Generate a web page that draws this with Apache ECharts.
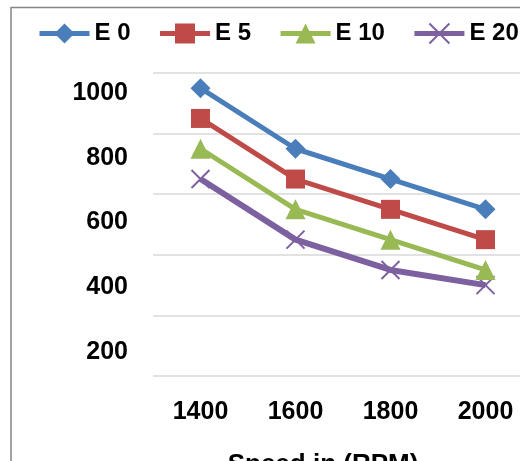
<!DOCTYPE html>
<html>
<head>
<meta charset="utf-8">
<script src="https://cdn.jsdelivr.net/npm/echarts@6/dist/echarts.min.js"></script>
<style>
html,body{margin:0;padding:0;background:#fff;}
#c{width:520px;height:461px;}
</style>
</head>
<body>
<div id="c"></div>
<script>
var categories = ['1400', '1600', '1800', '2000'];
var seriesNames = ['E 0', 'E 5', 'E 10', 'E 20'];
var e0 = [950, 750, 650, 550];
var e5 = [850, 650, 550, 450];
var e10 = [750, 550, 450, 350];
var e20 = [650, 450, 350, 300];
var yTicks = [0, 200, 400, 600, 800, 1000];
var xTitle = 'Speed in (RPM)';

var colors = ['#4A7EBB', '#BE4B48', '#98B954', '#7D60A0'];
var symbols = ['diamond', 'rect', 'triangle', 'path://M0,0L10,10M10,0L0,10'];
var sizes = [20, 19, 20, 18];
var dataSets = [e0, e5, e10, e20];
var FONT = 'Liberation Sans';

var chart = echarts.init(document.getElementById('c'), null, {renderer: 'canvas'});

var series = dataSets.map(function (d, i) {
  var isX = i === 3;
  return {
    name: seriesNames[i],
    type: 'line',
    xAxisIndex: 0,
    yAxisIndex: 0,
    data: d,
    symbol: symbols[i],
    symbolSize: sizes[i],
    showAllSymbol: true,
    lineStyle: {color: colors[i], width: isX ? 6 : 5},
    itemStyle: isX ? {color: 'none', borderColor: colors[i], borderWidth: 2} : {color: colors[i], borderColor: colors[i], borderWidth: 0},
    emphasis: {disabled: true},
    animation: false,
    z: 3 + (3 - i)
  };
});

var option = {
  animation: false,
  graphic: [{
    type: 'polyline',
    shape: {points: [[11, 470], [11, 7.5], [530, 7.5]]},
    style: {stroke: '#868686', lineWidth: 1.5, fill: null},
    silent: true
  }],
  legend: {
    left: 37,
    top: 21,
    width: 700,
    padding: 0,
    itemWidth: 50,
    itemHeight: 25,
    itemGap: 27,
    lineStyle: {width: 5},
    textStyle: {fontFamily: FONT, fontWeight: 'bold', fontSize: 24, color: '#000', padding: [0, 0, 0, 0]},
    data: seriesNames
  },
  grid: [
    {left: 153, top: 73, width: 380, height: 303, containLabel: false, outerBoundsMode: 'none'},
    {left: 153, top: 93, width: 380, height: 323.75, containLabel: false, outerBoundsMode: 'none'}
  ],
  xAxis: [
    {
      type: 'category', gridIndex: 0, data: categories, boundaryGap: true,
      axisLine: {show: false}, axisTick: {show: false},
      axisLabel: {fontFamily: FONT, fontWeight: 'bold', fontSize: 25, color: '#000', margin: 24},
      name: xTitle, nameLocation: 'middle', nameGap: 76,
      nameTextStyle: {fontFamily: FONT, fontWeight: 'bold', fontSize: 26, color: '#000', align: 'center', padding: [0, 40, 0, 0]}
    },
    {type: 'category', gridIndex: 1, data: categories, show: false}
  ],
  yAxis: [
    {
      type: 'value', gridIndex: 0, min: 0, max: 1000, interval: 200,
      axisLabel: {show: false}, axisLine: {show: false}, axisTick: {show: false},
      splitLine: {show: true, lineStyle: {color: '#D9D9D9', width: 1.5}}
    },
    {
      type: 'value', gridIndex: 1, min: 0, max: 1000, interval: 200,
      axisLine: {show: false}, axisTick: {show: false}, splitLine: {show: false},
      axisLabel: {
        fontFamily: FONT, fontWeight: 'bold', fontSize: 25, color: '#000', margin: 25,
        formatter: function (v) { return v === 0 ? '' : String(v); }
      }
    }
  ],
  series: series
};
chart.setOption(option);
</script>
</body>
</html>
